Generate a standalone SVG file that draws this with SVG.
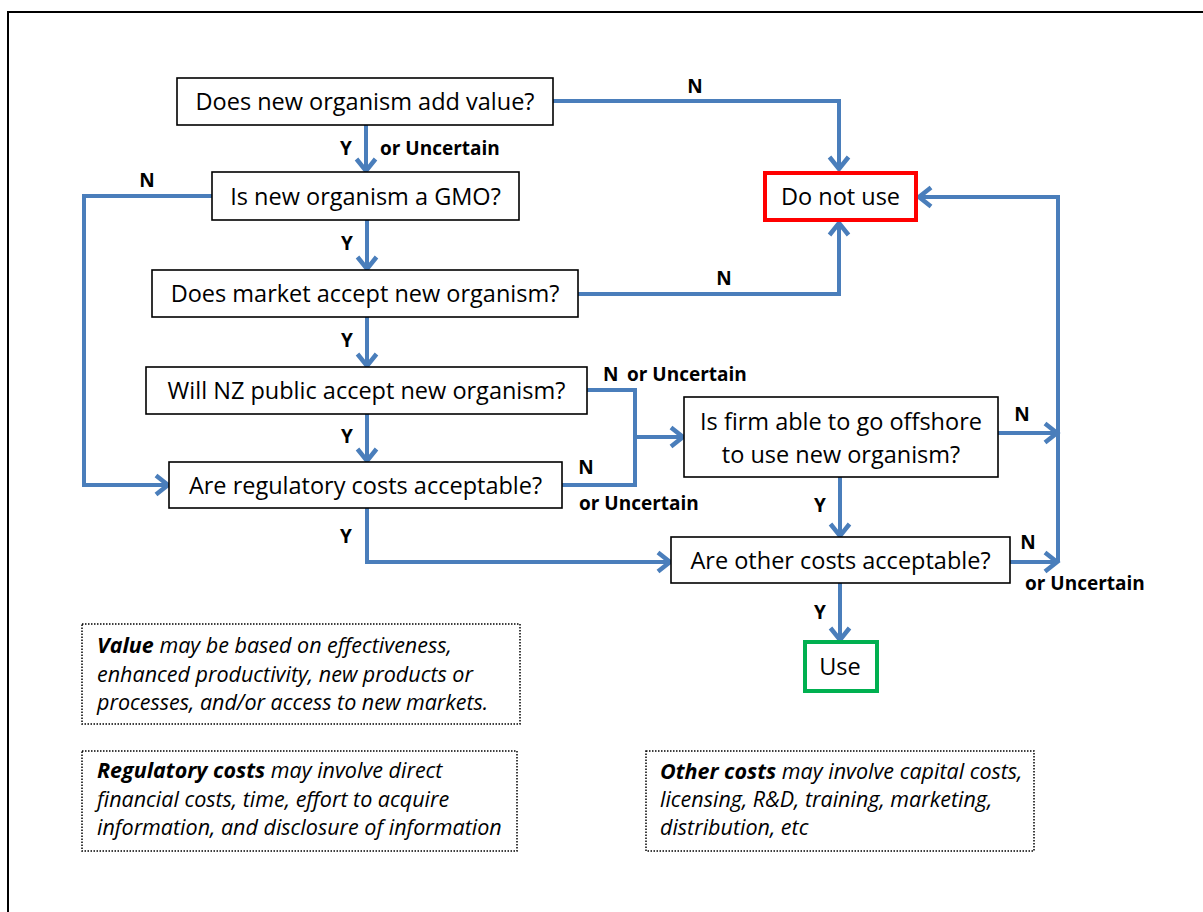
<svg xmlns="http://www.w3.org/2000/svg" width="1203" height="912" viewBox="0 0 1203 912">
  <defs>
    <marker id="open-arrow" markerUnits="userSpaceOnUse" markerWidth="30" markerHeight="30" refX="20" refY="12" orient="auto" overflow="visible">
      <path d="M 8 2.5 L 20 12 L 8 21.5" fill="none" stroke="#4A7EBB" stroke-width="4.5" stroke-linejoin="miter"/>
    </marker>
    <style>
      .box { fill: #ffffff; stroke: #000000; stroke-width: 1.6; }
      .stop { fill: #ffffff; stroke: #FF0000; stroke-width: 4; }
      .go { fill: #ffffff; stroke: #00B050; stroke-width: 4; }
      .note { fill: #ffffff; stroke: #000000; stroke-width: 1.5; stroke-dasharray: 1.5 1.5; }
      .conn { fill: none; stroke: #4A7EBB; stroke-width: 4; stroke-linejoin: miter; }
      .arrow { marker-end: url(#open-arrow); }
      .t { font-family: "Open Sans", Lato, "Liberation Sans", sans-serif; font-size: 23.5px; fill: #000000; text-anchor: middle; }
      .lbl { font-family: "Open Sans", Lato, "Liberation Sans", sans-serif; font-size: 19px; font-weight: bold; fill: #000000; }
      .nt { font-family: "Open Sans", Lato, "Liberation Sans", sans-serif; font-size: 21.5px; font-style: italic; fill: #000000; }
      .nt .b { font-weight: bold; }
    </style>
  </defs>

  <rect width="1203" height="912" fill="#ffffff"/>
  <!-- outer frame -->
  <rect x="8" y="12" width="1300" height="1000" fill="none" stroke="#000000" stroke-width="2"/>

  <!-- connectors -->
  <g id="connectors">
    <path class="conn arrow" d="M553,101 H839 V169"/>
    <path class="conn arrow" d="M366,125 V171"/>
    <path class="conn arrow" d="M212,196 H84 V485 H168"/>
    <path class="conn arrow" d="M367,220 V269"/>
    <path class="conn arrow" d="M578,294 H839 V223"/>
    <path class="conn arrow" d="M367,317 V366"/>
    <path class="conn" d="M587,390 H635 V485 H562"/>
    <path class="conn arrow" d="M635,437 H683"/>
    <path class="conn arrow" d="M367,414 V461"/>
    <path class="conn arrow" d="M367,508 V562 H670"/>
    <path class="conn arrow" d="M840,477 V536"/>
    <path class="conn arrow" d="M998,433 H1057"/>
    <path class="conn arrow" d="M1010,562 H1057"/>
    <path class="conn arrow" d="M1058,562 V197 H919"/>
    <path class="conn arrow" d="M840,583 V640"/>

    <g id="connector-labels">
      <text class="lbl" x="695" y="93" text-anchor="middle">N</text>
      <text class="lbl" x="346" y="155" text-anchor="middle">Y</text>
      <text class="lbl" x="380" y="155">or Uncertain</text>
      <text class="lbl" x="147" y="187" text-anchor="middle">N</text>
      <text class="lbl" x="347" y="250" text-anchor="middle">Y</text>
      <text class="lbl" x="724" y="285" text-anchor="middle">N</text>
      <text class="lbl" x="347" y="347" text-anchor="middle">Y</text>
      <text class="lbl" x="603" y="381">N<tspan x="627">or Uncertain</tspan></text>
      <text class="lbl" x="347" y="443" text-anchor="middle">Y</text>
      <text class="lbl" x="586" y="474" text-anchor="middle">N</text>
      <text class="lbl" x="579" y="510">or Uncertain</text>
      <text class="lbl" x="346" y="543" text-anchor="middle">Y</text>
      <text class="lbl" x="820" y="512" text-anchor="middle">Y</text>
      <text class="lbl" x="1022" y="421" text-anchor="middle">N</text>
      <text class="lbl" x="1028" y="549" text-anchor="middle">N</text>
      <text class="lbl" x="1025" y="590">or Uncertain</text>
      <text class="lbl" x="820" y="619" text-anchor="middle">Y</text>
    </g>
  </g>

  <!-- decision nodes -->
  <g id="node-add-value">
    <rect class="box" x="177" y="78" width="376" height="47"/>
    <text class="t" x="365" y="110">Does new organism add value?</text>
  </g>
  <g id="node-gmo">
    <rect class="box" x="212" y="172" width="307" height="48"/>
    <text class="t" x="365.5" y="205">Is new organism a GMO?</text>
  </g>
  <g id="node-market">
    <rect class="box" x="152" y="270" width="426" height="47"/>
    <text class="t" x="365" y="302">Does market accept new organism?</text>
  </g>
  <g id="node-public">
    <rect class="box" x="146" y="367" width="441" height="47"/>
    <text class="t" x="366.5" y="399">Will NZ public accept new organism?</text>
  </g>
  <g id="node-regulatory">
    <rect class="box" x="169" y="462" width="393" height="46"/>
    <text class="t" x="365.5" y="494">Are regulatory costs acceptable?</text>
  </g>
  <g id="node-offshore">
    <rect class="box" x="684" y="397" width="314" height="80"/>
    <text class="t" x="841" y="430">Is firm able to go offshore</text>
    <text class="t" x="841" y="463">to use new organism?</text>
  </g>
  <g id="node-other-costs">
    <rect class="box" x="671" y="537" width="339" height="46"/>
    <text class="t" x="840.5" y="569">Are other costs acceptable?</text>
  </g>

  <!-- outcomes -->
  <g id="node-do-not-use">
    <rect class="stop" x="765" y="173" width="151" height="47"/>
    <text class="t" x="840.5" y="205">Do not use</text>
  </g>
  <g id="node-use">
    <rect class="go" x="805" y="642" width="72" height="49"/>
    <text class="t" x="840" y="675">Use</text>
  </g>

  <!-- explanatory notes -->
  <g id="note-value">
    <rect class="note" x="82" y="624" width="438" height="100"/>
    <text class="nt" x="97" y="653"><tspan class="b">Value</tspan> may be based on effectiveness,</text>
    <text class="nt" x="97" y="682">enhanced productivity, new products or</text>
    <text class="nt" x="97" y="710">processes, and/or access to new markets.</text>
  </g>
  <g id="note-regulatory">
    <rect class="note" x="82" y="751" width="435" height="100"/>
    <text class="nt" x="97" y="778"><tspan class="b">Regulatory costs</tspan> may involve direct</text>
    <text class="nt" x="97" y="807">financial costs, time, effort to acquire</text>
    <text class="nt" x="97" y="835">information, and disclosure of information</text>
  </g>
  <g id="note-other">
    <rect class="note" x="646" y="751" width="388" height="100"/>
    <text class="nt" x="660" y="779"><tspan class="b">Other costs</tspan> may involve capital costs,</text>
    <text class="nt" x="660" y="807">licensing, R&amp;D, training, marketing,</text>
    <text class="nt" x="660" y="835">distribution, etc</text>
  </g>
</svg>
